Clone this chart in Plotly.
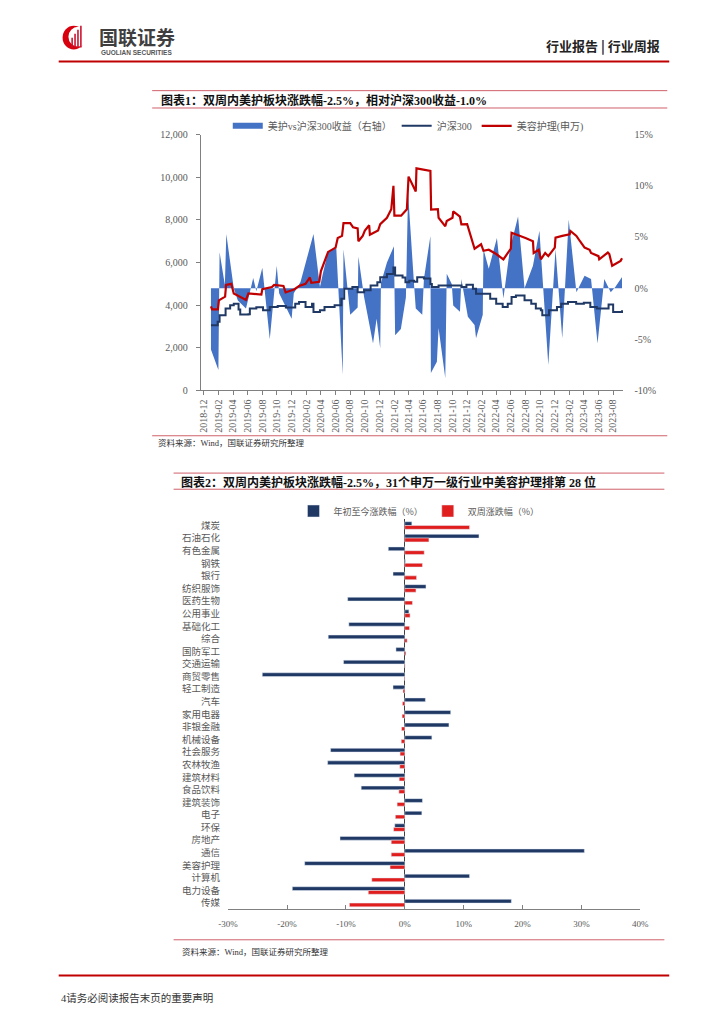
import plotly.graph_objects as go

W, H = 724, 1024


def px(x):
    return x / W


def py(y):
    return 1 - y / H


SERIF = "Liberation Serif, Noto Sans CJK SC"
CJK = "Noto Sans CJK SC"
GRAY = "#595959"

# ---------------- Chart 1 data ----------------
red_dates = ["2018-12-30", "2019-01-04", "2019-01-28", "2019-02-01", "2019-02-27", "2019-03-03",
             "2019-03-25", "2019-04-04", "2019-05-25", "2019-06-04", "2019-07-28", "2019-08-01",
             "2019-09-10", "2019-09-19", "2019-10-28", "2019-11-06", "2019-12-13", "2020-01-01",
             "2020-01-28", "2020-02-15", "2020-02-21", "2020-03-25", "2020-04-01", "2020-05-01",
             "2020-06-01", "2020-06-10", "2020-06-28", "2020-07-04", "2020-08-01", "2020-08-13",
             "2020-09-01", "2020-09-04", "2020-09-22", "2020-10-01", "2020-10-19", "2020-10-22",
             "2020-11-25", "2020-12-04", "2021-01-01", "2021-01-19", "2021-01-28", "2021-02-01",
             "2021-03-01", "2021-03-25", "2021-04-01", "2021-05-01", "2021-05-04", "2021-06-01",
             "2021-07-01", "2021-07-04", "2021-08-01", "2021-08-04", "2021-09-01", "2021-09-07",
             "2021-10-01", "2021-10-04", "2021-11-01", "2021-11-07", "2021-12-01", "2022-01-01",
             "2022-01-28", "2022-02-07", "2022-03-01", "2022-04-01", "2022-05-01", "2022-05-16",
             "2022-06-01", "2022-06-04", "2022-07-01", "2022-08-01", "2022-09-01", "2022-09-04",
             "2022-09-25", "2022-10-04", "2022-10-22", "2022-11-04", "2022-12-01", "2022-12-04",
             "2023-01-01", "2023-02-01", "2023-02-04", "2023-03-01", "2023-03-16", "2023-04-04",
             "2023-04-25", "2023-05-01", "2023-06-01", "2023-06-04", "2023-07-10", "2023-07-16",
             "2023-07-28", "2023-09-01", "2023-09-07"]
red_vals = [3950, 3800, 3800, 4230, 4400, 4950,
            5000, 4550, 4250, 4550, 4500, 4750,
            4850, 4950, 4900, 4600, 4750, 4900,
            5000, 5300, 5050, 5100, 5600, 6500,
            6700, 7150, 7250, 7850, 7850, 7650,
            7600, 7000, 7250, 7500, 7750, 7300,
            7500, 7800, 8100, 8500, 9600, 8200,
            8200, 8500, 10030, 9330, 10420, 10350,
            10300, 8480, 8500, 8100, 7700, 7950,
            8100, 8400, 8150, 7790, 7800, 6650,
            6860, 6550, 6600, 6400, 6150, 6400,
            6650, 7400, 7300, 7150, 7000, 6450,
            6600, 6150, 6450, 6300, 6700, 7170,
            7250, 7320, 7480, 7250, 7000, 6700,
            6600, 6450, 6300, 6150, 6470, 6400,
            5850, 6080, 6200]

hs_dates = ["2018-12-30", "2019-01-27", "2019-02-04", "2019-03-01", "2019-03-20", "2019-04-04",
            "2019-04-24", "2019-05-01", "2019-06-04", "2019-06-10", "2019-07-07", "2019-08-04",
            "2019-09-01", "2019-10-04", "2019-11-07", "2019-12-16", "2020-01-01", "2020-01-28",
            "2020-02-24", "2020-03-01", "2020-03-28", "2020-04-16", "2020-05-28", "2020-06-25",
            "2020-07-07", "2020-08-10", "2020-09-01", "2020-09-28", "2020-10-25", "2020-11-22",
            "2020-12-04", "2021-01-01", "2021-01-28", "2021-02-04", "2021-03-07", "2021-03-19",
            "2021-04-04", "2021-04-24", "2021-05-07", "2021-06-04", "2021-07-01", "2021-07-07",
            "2021-08-04", "2021-09-28", "2021-11-07", "2021-11-28", "2021-12-25", "2022-01-07",
            "2022-02-04", "2022-03-07", "2022-04-01", "2022-04-28", "2022-05-19", "2022-06-04",
            "2022-06-22", "2022-07-28", "2022-08-25", "2022-09-13", "2022-10-04", "2022-10-10",
            "2022-11-07", "2022-12-10", "2022-12-28", "2023-01-25", "2023-02-28", "2023-04-01",
            "2023-04-28", "2023-05-25", "2023-07-13", "2023-08-01", "2023-09-07"]
hs_vals = [3065, 3220, 3530, 3850, 4000, 4070,
           3800, 3560, 3580, 3840, 3900, 3760,
           3920, 3960, 3890, 4070, 4150, 3920,
           4070, 3680, 3760, 3920, 4000, 4300,
           4770, 4850, 4610, 4700, 4920, 5080,
           5310, 5460, 5770, 5390, 5300, 5080,
           5150, 5100, 5310, 5250, 5000, 4850,
           4920, 4920, 4850, 4960, 4770, 4540,
           4540, 4300, 4070, 3920, 4070, 4380,
           4460, 4230, 4070, 3840, 3760, 3530,
           3760, 3920, 4070, 4150, 4070, 4110,
           3920, 3840, 4030, 3680, 3760]

rel_dates = ["2018-12-30", "2019-01-30", "2019-02-04", "2019-02-26", "2019-03-04", "2019-04-04",
             "2019-04-21", "2019-05-25", "2019-06-24", "2019-07-07", "2019-08-01", "2019-09-01",
             "2019-09-30", "2019-10-10", "2019-12-01", "2019-12-10", "2020-01-07", "2020-03-01",
             "2020-03-28", "2020-04-10", "2020-05-01", "2020-06-04", "2020-07-01", "2020-07-04",
             "2020-08-01", "2020-09-01", "2020-09-04", "2020-09-28", "2020-11-04", "2020-11-19",
             "2020-12-04", "2020-12-07", "2021-01-01", "2021-01-30", "2021-02-04", "2021-02-28",
             "2021-03-21", "2021-03-30", "2021-04-24", "2021-05-01", "2021-05-28", "2021-06-04",
             "2021-07-01", "2021-07-03", "2021-07-28", "2021-08-04", "2021-09-01", "2021-09-07",
             "2021-09-28", "2021-10-04", "2021-11-01", "2021-11-07", "2021-12-04", "2022-01-01",
             "2022-01-07", "2022-02-04", "2022-02-07", "2022-03-01", "2022-04-04", "2022-05-01",
             "2022-05-28", "2022-07-01", "2022-07-28", "2022-09-01", "2022-09-28", "2022-11-04",
             "2022-12-04", "2023-01-01", "2023-01-28", "2023-03-01", "2023-04-04", "2023-05-01",
             "2023-05-28", "2023-06-25", "2023-07-22", "2023-08-10", "2023-09-07"]
rel_vals = [-6.0, -8.0, 3.5, 0.3, 5.3, 0.0,
            -1.2, -2.0, 1.0, -0.3, 2.0, -5.0,
            2.2, -0.5, -3.0, -0.5, 0.6, 5.3,
            0.1, 1.5, 3.6, 3.9, -8.5, 3.8,
            -2.6, -1.9, 3.1, -0.9, -5.4, -3.0,
            -5.9, 0.5, 2.5, 4.1, -4.6, -4.0,
            -0.9, 9.3, 0.3, -2.0, -2.6, 0.9,
            5.1, -8.3, -7.2, -3.9, -8.8, 1.4,
            0.4, -1.7, -2.3, 0.9, -2.8, -3.6,
            -4.9, -2.6, 3.8, 1.9, 4.9, -1.0,
            3.8, 7.0, 0.0, 2.2, 5.6, -7.5,
            3.8, -4.9, 6.7, -0.4, 1.2, 0.9,
            -5.4, 0.9, -0.4, 0.1, 1.1]

x1_ticks = ["2018-12-01", "2019-02-01", "2019-04-01", "2019-06-01", "2019-08-01", "2019-10-01",
            "2019-12-01", "2020-02-01", "2020-04-01", "2020-06-01", "2020-08-01", "2020-10-01",
            "2020-12-01", "2021-02-01", "2021-04-01", "2021-06-01", "2021-08-01", "2021-10-01",
            "2021-12-01", "2022-02-01", "2022-04-01", "2022-06-01", "2022-08-01", "2022-10-01",
            "2022-12-01", "2023-02-01", "2023-04-01", "2023-06-01", "2023-08-01"]
left_ticks = [0, 2000, 4000, 6000, 8000, 10000, 12000]
right_ticks = [-10, -5, 0, 5, 10, 15]
right_text = ["-10%", "-5%", "0%", "5%", "10%", "15%"]

# ---------------- Chart 2 data ----------------
industries = ["煤炭", "石油石化", "有色金属", "钢铁", "银行", "纺织服饰", "医药生物", "公用事业",
              "基础化工", "综合", "国防军工", "交通运输", "商贸零售", "轻工制造", "汽车", "家用电器",
              "非银金融", "机械设备", "社会服务", "农林牧渔", "建筑材料", "食品饮料", "建筑装饰",
              "电子", "环保", "房地产", "通信", "美容护理", "计算机", "电力设备", "传媒"]
ytd_pct = [1.2, 12.6, -2.8, 0.1, -2.0, 3.6, -9.7, 0.7,
           -9.5, -13.0, -1.5, -10.4, -24.2, -2.0, 3.5, 7.8,
           7.5, 4.6, -12.6, -13.1, -8.6, -7.4, 3.0,
           2.9, -1.7, -11.0, 30.5, -17.0, 11.0, -19.1, 18.1]
biweek_pct = [11.0, 4.1, 3.3, 3.0, 2.0, 1.9, 1.3, 0.9,
              0.8, 0.4, 0.2, 0.05, -0.1, -0.3, -0.4, -0.45,
              -0.55, -0.6, -0.8, -0.85, -0.95, -1.0, -1.3,
              -1.6, -1.9, -2.3, -2.3, -2.5, -5.6, -6.2, -9.4]
x2_ticks = [-30, -20, -10, 0, 10, 20, 30, 40]
x2_text = ["-30%", "-20%", "-10%", "0%", "10%", "20%", "30%", "40%"]

fig = go.Figure()

# Chart 1 traces
fig.add_trace(go.Scatter(x=rel_dates, y=rel_vals, xaxis="x", yaxis="y", mode="none",
                         fill="tozeroy", fillcolor="#4472C4",
                         name="美护vs沪深300收益（右轴）", legend="legend"))
fig.add_trace(go.Scatter(x=hs_dates, y=hs_vals, xaxis="x", yaxis="y2", mode="lines",
                         line=dict(color="#1F3864", width=2, shape="hv"),
                         name="沪深300", legend="legend"))
fig.add_trace(go.Scatter(x=red_dates, y=red_vals, xaxis="x", yaxis="y2", mode="lines",
                         line=dict(color="#C00000", width=2.2),
                         name="美容护理(申万)", legend="legend"))

# Chart 2 traces
fig.add_trace(go.Bar(y=industries, x=ytd_pct, orientation="h", xaxis="x2", yaxis="y3",
                     marker=dict(color="#1F3864"), name="年初至今涨跌幅（%）", legend="legend2"))
fig.add_trace(go.Bar(y=industries, x=biweek_pct, orientation="h", xaxis="x2", yaxis="y3",
                     marker=dict(color="#E01E1E"), name="双周涨跌幅（%）", legend="legend2"))

axfont = dict(family=SERIF, size=10, color=GRAY)

fig.update_layout(
    width=W, height=H, autosize=False,
    margin=dict(l=0, r=0, t=0, b=0),
    paper_bgcolor="white", plot_bgcolor="white",
    barmode="group", bargap=0.4, bargroupgap=0,
    xaxis=dict(domain=[px(196), px(630)], anchor="y", type="date",
               range=["2018-11-18", "2023-09-13"],
               tickvals=x1_ticks, tickformat="%Y-%m", tickangle=-90,
               ticks="outside", ticklen=4, tickcolor="#808080",
               showline=True, linecolor="#808080", linewidth=1,
               showgrid=False, zeroline=False, tickfont=axfont),
    yaxis=dict(domain=[py(389.3), py(130.9)], anchor="x", side="right",
               range=[-10, 15], tickvals=right_ticks, ticktext=right_text,
               showline=False, showgrid=False, zeroline=False, ticks="",
               ticklabelstandoff=10, tickfont=axfont),
    yaxis2=dict(overlaying="y", anchor="x", side="left", range=[0, 12000],
                tickvals=left_ticks, tickformat=",d",
                showline=True, linecolor="#808080", linewidth=1,
                ticks="outside", ticklen=4, tickcolor="#808080",
                showgrid=False, zeroline=False, ticklabelstandoff=6, tickfont=axfont),
    xaxis2=dict(domain=[px(224), px(647.3)], anchor="y3", range=[-30, 40],
                tickvals=x2_ticks, ticktext=x2_text,
                showline=True, linecolor="#808080", linewidth=1,
                ticks="inside", ticklen=4, tickcolor="#808080",
                showgrid=False, zeroline=True, zerolinecolor="#404040", zerolinewidth=1,
                ticklabelstandoff=6, tickfont=dict(family=SERIF, size=9, color=GRAY)),
    yaxis3=dict(domain=[py(913.3), py(519.3)], anchor="x2", type="category",
                range=[30.5, -0.5], showline=False, showgrid=False, zeroline=False,
                ticks="", ticklabelstandoff=7,
                tickfont=dict(family=CJK, size=9.5, color=GRAY)),
    legend=dict(orientation="h", x=px(409), xanchor="center", y=py(122), yanchor="middle",
                font=dict(family=SERIF, size=10, color=GRAY), bgcolor="rgba(0,0,0,0)",
                itemwidth=30, tracegroupgap=0),
    legend2=dict(orientation="h", x=px(420), xanchor="center", y=py(511), yanchor="middle",
                 font=dict(family=CJK, size=9, color=GRAY), bgcolor="rgba(0,0,0,0)",
                 itemwidth=30, tracegroupgap=0),
)

shapes = []


def hline(y, x0, x1, color, width):
    shapes.append(dict(type="line", xref="paper", yref="paper", x0=px(x0), x1=px(x1),
                       y0=py(y), y1=py(y), line=dict(color=color, width=width)))


hline(57, 50, 677, "#C00000", 2)
hline(86.5, 146, 675, "#D0606A", 1)
hline(104, 146, 675, "#D0606A", 1)
hline(435, 146, 675, "#D0606A", 1)
hline(472.7, 168, 672, "#D0606A", 1)
hline(489, 168, 672, "#D0606A", 1)
hline(944, 168, 672, "#D0606A", 1)
hline(980, 50, 677, "#C00000", 2)

# logo
shapes.append(dict(type="circle", xref="paper", yref="paper", x0=px(54), x1=px(77),
                   y0=py(45), y1=py(21), fillcolor="#D7000F", line=dict(width=0)))
shapes.append(dict(type="circle", xref="paper", yref="paper", x0=px(60), x1=px(80),
                   y0=py(42), y1=py(22), fillcolor="white", line=dict(width=0)))
for (bx0, bx1, by0) in [(63, 64.6, 33), (66, 67.6, 29), (69, 70.6, 25), (72, 73.6, 21)]:
    shapes.append(dict(type="rect", xref="paper", yref="paper", x0=px(bx0), x1=px(bx1),
                       y0=py(43), y1=py(by0), fillcolor="#C8102E", line=dict(width=0)))
fig.update_layout(shapes=shapes)

ann = []


def text(x, y, s, size, color="#222222", family=CJK, xanchor="left", bold=False):
    ann.append(dict(xref="paper", yref="paper", x=px(x), y=py(y), text=s, showarrow=False,
                    xanchor=xanchor, yanchor="middle",
                    font=dict(family=family, size=size, color=color,
                              weight="bold" if bold else "normal")))


text(89, 32, "国联证券", 19, "#3F3F3F", CJK, bold=True)
text(91, 47.5, "GUOLIAN SECURITIES", 6.5, "#555555", "Liberation Sans", bold=True)
text(670, 40.5, "行业报告 | 行业周报", 13, "#222222", CJK, xanchor="right", bold=True)
text(153, 96, "图表1：双周内美护板块涨跌幅-2.5%，相对沪深300收益-1.0%", 12, "#111111", SERIF, bold=True)
text(150, 442, "资料来源：Wind，国联证券研究所整理", 8.5, "#333333", SERIF)
text(174, 482, "图表2：双周内美护板块涨跌幅-2.5%，31个申万一级行业中美容护理排第 28 位", 12,
     "#111111", SERIF, bold=True)
text(175, 956, "资料来源：Wind，国联证券研究所整理", 8.5, "#333333", SERIF)
text(50, 1003, "4请务必阅读报告末页的重要声明", 10.5, "#333333", SERIF)
fig.update_layout(annotations=ann)

fig.write_html("out.html", config={"displayModeBar": False},
               post_script="document.body.style.margin='0';")
